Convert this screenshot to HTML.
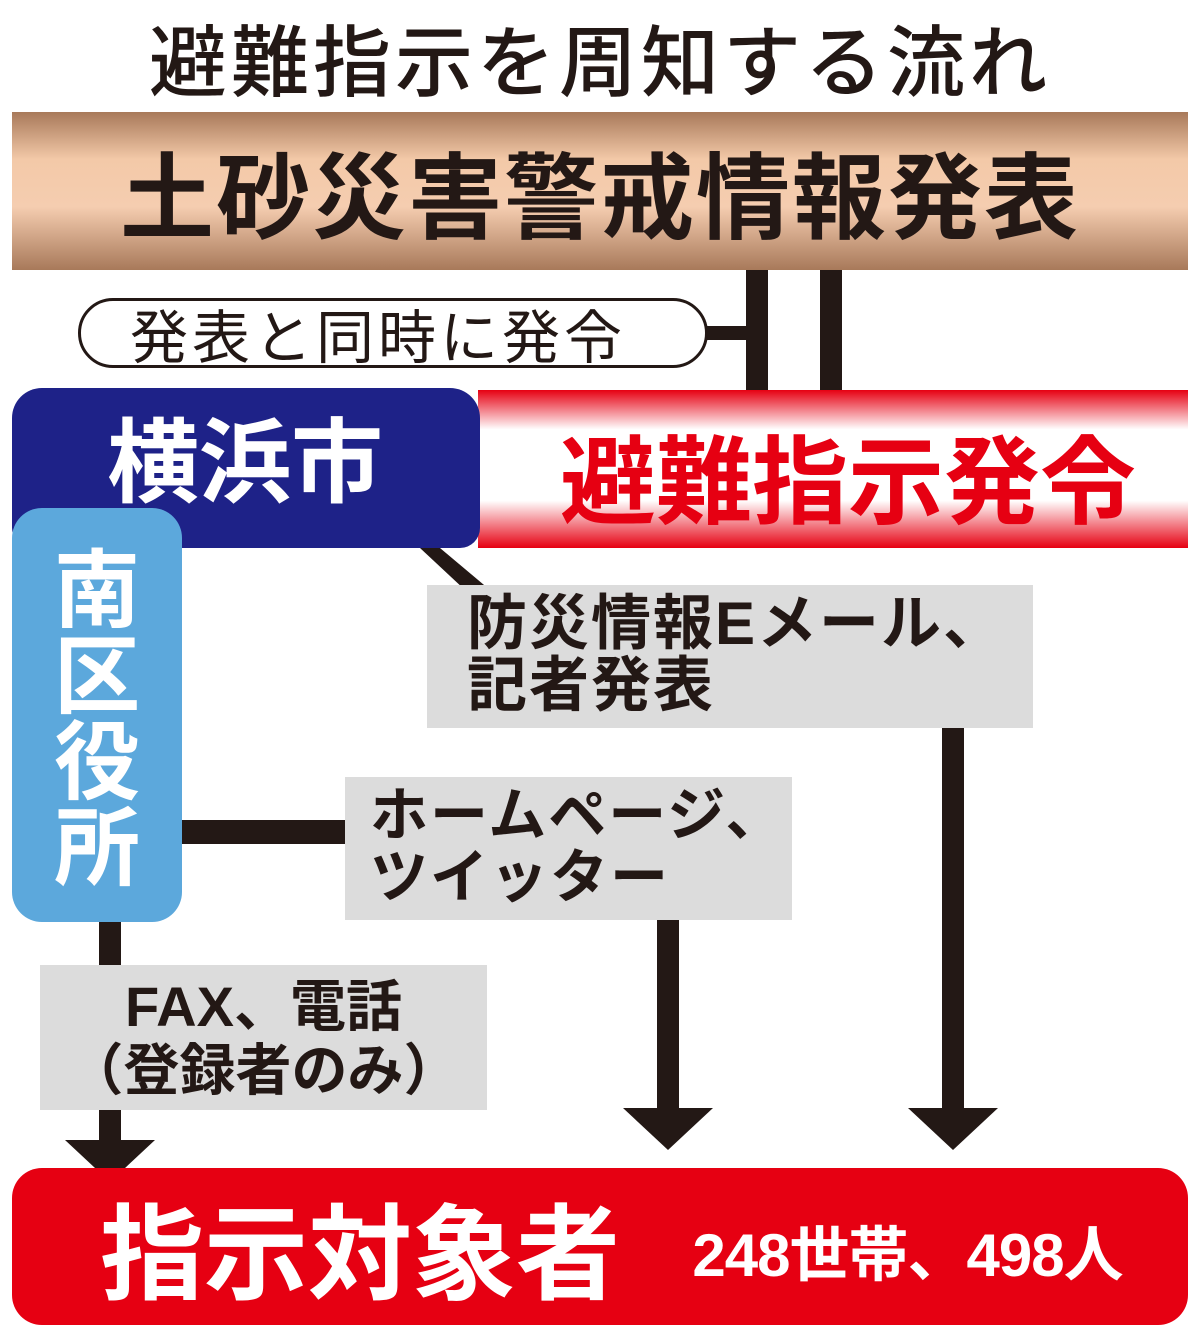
<!DOCTYPE html>
<html><head><meta charset="utf-8"><style>
body{margin:0;width:1200px;height:1331px;background:#fff;position:relative;overflow:hidden;font-family:"Liberation Sans","Noto Sans CJK JP",sans-serif}
div{position:absolute;box-sizing:border-box}
.c{display:flex;align-items:center;justify-content:center;white-space:nowrap}
.g{background:#dcdcdc;color:#231815;font-weight:bold}
</style></head><body>
<div class="c" style="left:0;top:12px;width:1200px;height:90px;font-size:78px;color:#231815;font-weight:500;letter-spacing:4px">避難指示を周知する流れ</div>
<div class="c" style="left:12px;top:112px;width:1176px;height:158px;background:linear-gradient(#a8795a 0%,#f3c9a8 30%,#f5cdb0 60%,#a8795a 100%);font-size:94px;font-weight:bold;color:#231815;letter-spacing:2px">土砂災害警戒情報発表</div>
<svg style="position:absolute;left:0;top:0" width="1200" height="1331">
<g fill="#231815">
<rect x="746" y="270" width="22" height="120"/>
<rect x="820" y="270" width="22" height="120"/>
<rect x="706" y="326" width="42" height="14"/>
<polygon points="420,548 440,548 490,590 465,590"/>
<rect x="942" y="728" width="22" height="384"/>
<polygon points="908,1108 998,1108 953,1150"/>
<rect x="657" y="920" width="22" height="192"/>
<polygon points="623,1108 713,1108 668,1150"/>
<rect x="182" y="820" width="165" height="24"/>
<rect x="99" y="920" width="22" height="48"/>
<rect x="99" y="1108" width="22" height="40"/>
<polygon points="65,1140 155,1140 110,1182"/>
</g></svg>
<div class="c" style="left:78px;top:298px;width:630px;height:70px;border:3px solid #231815;border-radius:35px;background:#fff;font-size:58px;color:#231815;letter-spacing:4px;padding-right:30px">発表と同時に発令</div>
<div class="c" style="left:478px;top:390px;width:710px;height:158px;background:linear-gradient(#e60012 0%,#fff 25%,#fff 70%,#e60012 100%);font-size:96px;font-weight:bold;color:#e60012;padding-top:10px;padding-left:30px">避難指示発令</div>
<div style="left:12px;top:388px;width:468px;height:160px;background:#1e2288;border-radius:30px 30px 20px 20px"></div>
<div class="c" style="left:95px;top:400px;width:300px;height:110px;font-size:92px;font-weight:bold;color:#fff">横浜市</div>
<div style="left:12px;top:508px;width:170px;height:414px;background:#5ca8dc;border-radius:30px;color:#fff;font-size:86px;font-weight:bold;text-align:center;line-height:86px;padding-top:40px">南<br>区<br>役<br>所</div>
<div class="g" style="left:427px;top:585px;width:606px;height:143px;font-size:60px;line-height:62px;padding:8px 0 0 40px;letter-spacing:2px">防災情報Eメール、<br>記者発表</div>
<div class="g" style="left:345px;top:777px;width:447px;height:143px;font-size:58px;line-height:62px;padding:8px 0 0 25px;letter-spacing:2px">ホームページ、<br>ツイッター</div>
<div class="g" style="left:40px;top:965px;width:447px;height:145px;font-size:56px;line-height:64px;padding-top:10px;text-align:center;font-weight:bold">FAX、電話<br>（登録者のみ）</div>
<div style="left:12px;top:1168px;width:1176px;height:157px;background:#e60012;border-radius:30px"></div>
<div class="c" style="left:85px;top:1180px;width:550px;height:130px;font-size:104px;font-weight:bold;color:#fff">指示対象者</div>
<div class="c" style="left:665px;top:1200px;width:485px;height:100px;font-size:60px;font-weight:bold;color:#fff;letter-spacing:-1px">248世帯、498人</div>
</body></html>
